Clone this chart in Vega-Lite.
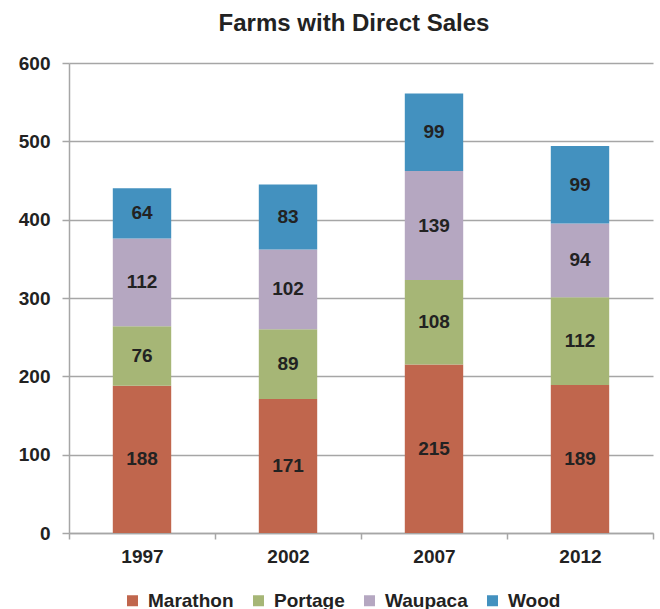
{
  "$schema": "https://vega.github.io/schema/vega-lite/v6.json",
  "width": 584,
  "height": 470,
  "autosize": {"type": "none"},
  "padding": {"left": 69, "top": 63, "right": 7, "bottom": 76},
  "background": "white",
  "title": {"text": "Farms with Direct Sales", "fontSize": 24, "font": "Liberation Sans", "fontWeight": "bold", "color": "#222222", "anchor": "middle", "dx": -7, "offset": 18},
  "data": {"values": [
    {"year": "1997", "county": "Marathon", "value": 188, "order": 1},
    {"year": "1997", "county": "Portage", "value": 76, "order": 2},
    {"year": "1997", "county": "Waupaca", "value": 112, "order": 3},
    {"year": "1997", "county": "Wood", "value": 64, "order": 4},
    {"year": "2002", "county": "Marathon", "value": 171, "order": 1},
    {"year": "2002", "county": "Portage", "value": 89, "order": 2},
    {"year": "2002", "county": "Waupaca", "value": 102, "order": 3},
    {"year": "2002", "county": "Wood", "value": 83, "order": 4},
    {"year": "2007", "county": "Marathon", "value": 215, "order": 1},
    {"year": "2007", "county": "Portage", "value": 108, "order": 2},
    {"year": "2007", "county": "Waupaca", "value": 139, "order": 3},
    {"year": "2007", "county": "Wood", "value": 99, "order": 4},
    {"year": "2012", "county": "Marathon", "value": 189, "order": 1},
    {"year": "2012", "county": "Portage", "value": 112, "order": 2},
    {"year": "2012", "county": "Waupaca", "value": 94, "order": 3},
    {"year": "2012", "county": "Wood", "value": 99, "order": 4}
  ]},
  "transform": [
    {"stack": "value", "groupby": ["year"], "sort": [{"field": "order", "order": "ascending"}], "as": ["y0", "y1"]}
  ],
  "encoding": {
    "x": {
      "field": "year", "type": "nominal", "sort": null,
      "scale": {"paddingInner": 0, "paddingOuter": 0},
      "axis": {"title": null, "labelAngle": 0, "labelFont": "Liberation Sans", "labelFontSize": 19, "labelFontWeight": "bold", "labelColor": "#222222", "labelPadding": 8, "tickSize": 6, "tickBand": "extent", "tickColor": "#A6A6A6", "tickWidth": 1.5, "domainColor": "#A6A6A6", "domainWidth": 1.5, "grid": false}
    }
  },
  "layer": [
    {
      "mark": {"type": "bar", "width": {"band": 0.4}},
      "encoding": {
        "y": {
          "field": "y0", "type": "quantitative",
          "scale": {"domain": [0, 600], "nice": false},
          "axis": {"title": null, "values": [0, 100, 200, 300, 400, 500, 600], "labelFont": "Liberation Sans", "labelFontSize": 19, "labelFontWeight": "bold", "labelColor": "#222222", "labelPadding": 12, "tickSize": 7, "tickColor": "#A6A6A6", "tickWidth": 1.5, "domainColor": "#A6A6A6", "domainWidth": 1.5, "grid": true, "gridColor": "#A6A6A6", "gridWidth": 1.5}
        },
        "y2": {"field": "y1"},
        "color": {
          "field": "county", "type": "nominal",
          "scale": {"domain": ["Marathon", "Portage", "Waupaca", "Wood"], "range": ["#C0664D", "#A6B676", "#B5A7C1", "#4391BF"]},
          "legend": {"orient": "none", "legendX": 54, "legendY": 528, "direction": "horizontal", "title": null, "symbolType": "square", "symbolSize": 121, "symbolStrokeWidth": 0, "symbolOpacity": 1, "labelFont": "Liberation Sans", "labelFontSize": 19, "labelFontWeight": "bold", "labelColor": "#222222", "columnPadding": 15, "labelOffset": 6, "padding": 0}
        }
      }
    },
    {
      "transform": [{"fold": ["y0", "y1"], "as": ["edge", "pos"]}],
      "mark": {"type": "text", "font": "Liberation Sans", "fontSize": 19, "fontWeight": "bold", "color": "#222222", "baseline": "middle", "align": "center"},
      "encoding": {
        "y": {"field": "pos", "aggregate": "mean", "type": "quantitative"},
        "detail": {"field": "county", "type": "nominal"},
        "text": {"field": "value", "type": "quantitative"}
      }
    }
  ],
  "config": {"view": {"stroke": null}}
}
